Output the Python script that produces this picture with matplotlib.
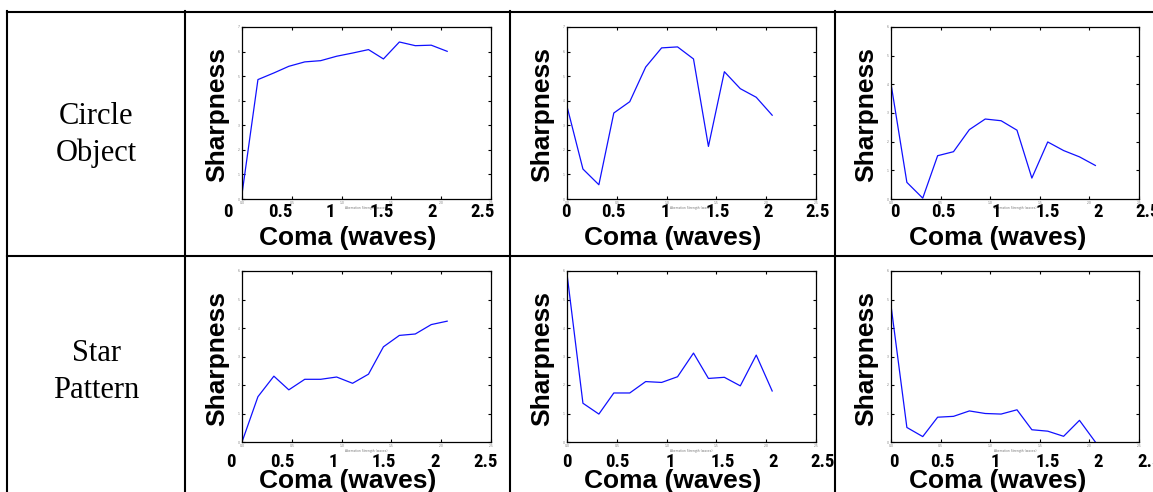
import matplotlib
matplotlib.use("Agg")
import matplotlib.pyplot as plt
from matplotlib.lines import Line2D
from matplotlib import font_manager

W, H = 1153, 492

# Coma strength (waves) at which each sharpness value was measured
coma = [0.0, 0.16, 0.32, 0.47, 0.63, 0.79, 0.95, 1.11, 1.27, 1.42, 1.58, 1.74, 1.90, 2.06]

# Sharpness curves, in units of the y tick spacing of each panel
circle_metric1 = [0.2, 4.86, 5.13, 5.40, 5.58, 5.63, 5.81, 5.94, 6.08, 5.70, 6.39, 6.24, 6.26, 6.01]
circle_metric2 = [3.77, 1.22, 0.58, 3.50, 3.96, 5.37, 6.15, 6.19, 5.70, 2.14, 5.18, 4.49, 4.14, 3.41]
circle_metric3 = [4.02, 0.58, 0.03, 1.51, 1.65, 2.42, 2.79, 2.73, 2.40, 0.73, 1.99, 1.69, 1.47, 1.17]
star_metric1 = [0.0, 1.59, 2.31, 1.83, 2.20, 2.20, 2.28, 2.06, 2.38, 3.34, 3.74, 3.79, 4.12, 4.24]
star_metric2 = [5.90, 1.36, 0.98, 1.72, 1.72, 2.12, 2.09, 2.29, 3.12, 2.23, 2.27, 1.97, 3.05, 1.79]
star_metric3 = [4.79, 0.51, 0.19, 0.87, 0.90, 1.09, 1.00, 0.98, 1.13, 0.43, 0.38, 0.20, 0.76, 0.0]

row_labels = ["Circle\nObject", "Star\nPattern"]
x_tick_labels = ["0", "0.5", "1", "1.5", "2", "2.5"]
x_label = "Coma (waves)"
y_label = "Sharpness"
small_x_label = "Aberration Strength (waves)"

series = [[circle_metric1, circle_metric2, circle_metric3],
          [star_metric1, star_metric2, star_metric3]]
y_top = [[7, 7, 6], [6, 6, 6]]


def fx(x):
    return x / W


def fy(y):
    return 1 - y / H


# narrow bold face for the large axis numbers
installed = {f.name for f in font_manager.fontManager.ttflist}
narrow_face = "DejaVu Sans"
for cand in ["Roboto Condensed", "Archivo Narrow", "PT Sans Narrow",
             "Asap Condensed", "Saira SemiCondensed"]:
    if cand in installed:
        narrow_face = cand
        break

fig = plt.figure(figsize=(W / 100, H / 100), dpi=100)
fig.patch.set_facecolor("white")

# table grid
grid_lw = 1.5
table_lines = [
    ((7, 1153), (12, 12)),
    ((7, 1153), (256, 256)),
    ((7, 7), (11, 492)),
    ((185, 185), (11, 492)),
    ((510, 510), (11, 492)),
    ((835, 835), (11, 492)),
]
for xs, ys in table_lines:
    fig.add_artist(Line2D([fx(v) for v in xs], [fy(v) for v in ys],
                          color="black", lw=grid_lw, solid_capstyle="projecting"))

# row headings
for label, yc in zip(row_labels, [135, 372]):
    fig.text(fx(96), fy(yc), label, ha="center", va="center",
             fontsize=22, family="Liberation Serif", linespacing=1.35)

# panel geometry in pixels: (left, right) per column, (top, bottom) per row
col_lr = [(242, 491), (567, 816), (891, 1139)]
row_tb = [(27, 199), (271, 442)]
tick_label_x = [
    [[228, 280, 330, 382, 432, 483], [566, 613, 665, 718, 768, 818], [895, 943, 996, 1048, 1098, 1148]],
    [[231, 282, 333, 384, 435, 486], [567, 617, 670, 723, 773, 823], [894, 942, 995, 1048, 1098, 1150]],
]
tick_label_y = [212, 462]
xlabel_y = [238, 481]
xlabel_cx = [348, 673, 998]
ylabel_cx = [217, 542, 866]
ylabel_cy = [115, 359]

for r in range(2):
    for c in range(3):
        l, rr = col_lr[c]
        t, b = row_tb[r]
        ax = fig.add_axes([fx(l), fy(b), (rr - l) / W, (b - t) / H])
        ax.plot(coma, series[r][c], color="#1010ff", lw=0.9)
        ax.set_xlim(0, 2.5)
        ax.set_ylim(0, y_top[r][c])
        ax.set_xticks([0, 0.5, 1.0, 1.5, 2.0, 2.5])
        ax.set_yticks(range(0, y_top[r][c] + 1))
        ax.tick_params(direction="in", length=2.5, width=0.8, top=True, right=True,
                       labelsize=2.2, labelcolor="#777777", pad=1.5)
        ax.set_xlabel(small_x_label, fontsize=2.2, color="#777777", labelpad=1)
        for s in ax.spines.values():
            s.set_linewidth(0.9)

        # large axis annotations
        for lab, xp in zip(x_tick_labels, tick_label_x[r][c]):
            fig.text(fx(xp), fy(tick_label_y[r]), lab, ha="center", va="center",
                     fontsize=13.5, fontweight="bold", family=narrow_face)
        fig.text(fx(xlabel_cx[c]), fy(xlabel_y[r]), x_label, ha="center", va="center",
                 fontsize=19, fontweight="bold", family="Liberation Sans")
        fig.text(fx(ylabel_cx[c]), fy(ylabel_cy[r]), y_label, ha="center", va="center",
                 rotation=90, fontsize=19, fontweight="bold", family="Liberation Sans")

fig.savefig("out.png", dpi=100, facecolor="white")
